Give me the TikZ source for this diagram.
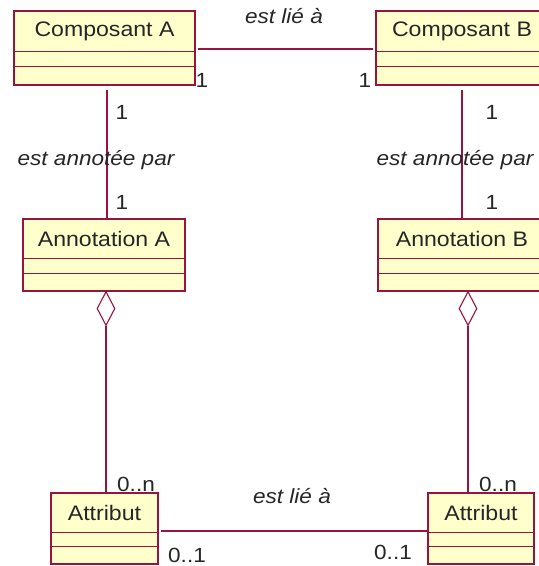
\documentclass[tikz,border=0pt]{standalone}
\usepackage{fontspec}
\newfontfamily\umlfont[FakeStretch=1.1]{Liberation Sans}
\usetikzlibrary{calc,shapes.geometric}
\definecolor{umlred}{RGB}{153,20,60}
\definecolor{umlfill}{RGB}{255,255,204}
\begin{document}
\begin{tikzpicture}[x=1pt,y=-1pt,
  umlbox/.style={draw=umlred,fill=umlfill,line width=1.1pt,inner sep=0pt,minimum height=#1},
  umlbox/.default=74,
  sepline/.style={draw=umlred,line width=1.1pt},
  assoc/.style={draw=umlred,line width=1.1pt},
  cname/.style={font=\umlfont\fontsize{21}{25}\selectfont,text=black!85,inner sep=0pt},
  role/.style={font=\umlfont\itshape\fontsize{20.5}{25}\selectfont,text=black!85,inner sep=0pt},
  mult/.style={font=\umlfont\fontsize{20.5}{25}\selectfont,text=black!85,inner sep=0pt},
  aggr/.style={diamond,draw=umlred,fill=white,line width=1.1pt,inner sep=0pt,minimum width=18pt,minimum height=34pt,anchor=north}
]
\useasboundingbox (0,0) rectangle (539,566);
\clip (0,0) rectangle (539,566);
\fill[white] (0,0) rectangle (539,566);

% ---- class boxes ----
\node[umlbox, minimum width=181pt] (ca) at (104.5,48) {};
\node[umlbox, minimum width=172pt] (cb) at (462,48) {};
\node[umlbox=72, minimum width=162pt] (aa) at (104,255) {};
\node[umlbox=72, minimum width=168pt] (ab) at (462,255) {};
\node[umlbox=71, minimum width=107pt] (ta) at (104.5,528.5) {};
\node[umlbox=71, minimum width=106pt] (tb) at (481,528.5) {};

% compartments
\foreach \b/\h/\k in {ca/41/56, cb/41/56, aa/40/55, ab/40/55, ta/40/54, tb/40/54}{
  \draw[sepline] ($(\b.north west)+(0,\h)$) -- ($(\b.north east)+(0,\h)$);
  \draw[sepline] ($(\b.north west)+(0,\k)$) -- ($(\b.north east)+(0,\k)$);
}

% class names
\node[cname] (catxt) at ($(ca.north)+(0,21)$) {Composant A};
\node[cname] (cbtxt) at ($(cb.north)+(0,21)$) {Composant B};
\node[cname] (aatxt) at ($(aa.north)+(0,21)$) {Annotation A};
\node[cname] (abtxt) at ($(ab.north)+(0,21)$) {Annotation B};
\node[cname] (tatxt) at ($(ta.north)+(0,21)$) {Attribut};
\node[cname] (tbtxt) at ($(tb.north)+(0,21)$) {Attribut};

% aggregation diamonds
\node[aggr] (da) at (106,291) {};
\node[aggr] (db) at (468,291) {};

% ---- associations ----
\draw[assoc] ($(ca.east)+(2,1)$) -- ($(cb.west)+(-2,1)$);
\draw[assoc] ($(ca.south)+(2.5,4)$) -- ($(aa.north)+(3,0)$);
\draw[assoc] ($(cb.south)+(0,4)$) -- (ab.north);
\draw[assoc] (da.south) -- (da.south |- ta.north);
\draw[assoc] (db.south) -- (db.south |- tb.north);
\draw[assoc] ($(ta.east)+(2,2.5)$) -- ($(tb.west)+(0,2.5)$);

% ---- role names ----
\node[role] (r1) at (284,16) {est lié à};
\node[role] (r2) at (96,160) {est annotée par};
\node[role] (r3) at (455,160) {est annotée par};
\node[role] (r4) at (292,496) {est lié à};

% ---- multiplicities ----
\node[mult] (m1) at (202,80) {1};
\node[mult] (m2) at (365,80) {1};
\node[mult] (m3) at (122,112) {1};
\node[mult] (m4) at (122,202) {1};
\node[mult] (m5) at (492,112) {1};
\node[mult] (m6) at (492,202) {1};
\node[mult] (m7) at (136,484) {0..n};
\node[mult] (m8) at (498,484) {0..n};
\node[mult] (m9) at (187,555) {0..1};
\node[mult] (m10) at (393,552) {0..1};
\end{tikzpicture}
\end{document}
